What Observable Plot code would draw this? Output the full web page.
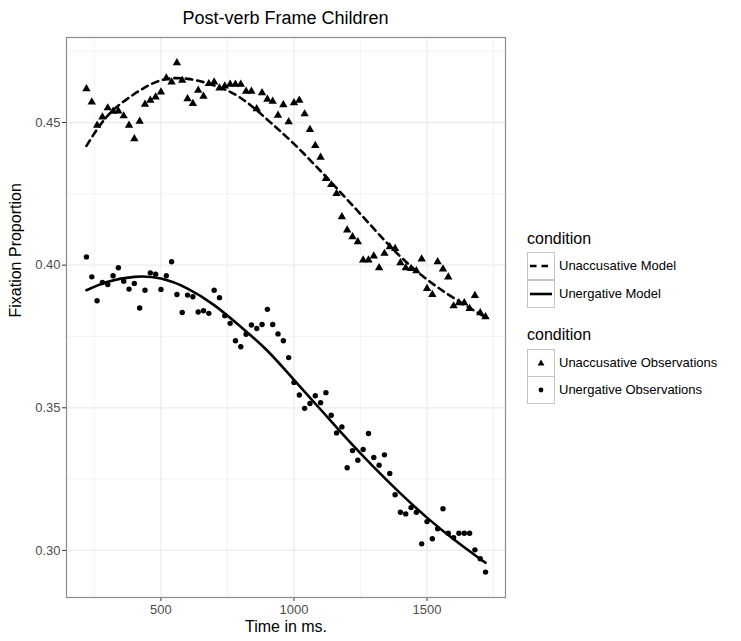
<!DOCTYPE html>
<html>
<head>
<meta charset="utf-8">
<script src="https://cdn.jsdelivr.net/npm/d3@7"></script>
<script src="https://cdn.jsdelivr.net/npm/@observablehq/plot@0.6"></script>
<style>
  body { margin: 0; background: #fff; font-family: "Liberation Sans", Arial, sans-serif; }
  #wrap { position: relative; width: 741px; height: 641px; overflow: hidden; background: #fff; }
  #title { position: absolute; left: 0; width: 571px; top: 5px; line-height: 26px; text-align: center; font-size: 18px; color: #000; }
  #chart { position: absolute; left: 0; top: 0; }
  .lg-title { position: absolute; left: 527px; font-size: 16px; line-height: 20px; color: #000; }
  .lg-key { position: absolute; left: 527px; width: 28px; height: 28px; }
  .lg-label { position: absolute; left: 559px; font-size: 13px; line-height: 16px; color: #000; white-space: nowrap; }
</style>
</head>
<body>
<div id="wrap">
  <div id="title">Post-verb Frame Children</div>
  <div id="chart"></div>
</div>
<script>
// ---- data ----
const times = [220,240,260,280,300,320,340,360,380,400,420,440,460,480,500,520,540,560,580,600,
  620,640,660,680,700,720,740,760,780,800,820,840,860,880,900,920,940,960,980,1000,
  1020,1040,1060,1080,1100,1120,1140,1160,1180,1200,1220,1240,1260,1280,1300,1320,1340,1360,1380,1400,
  1420,1440,1460,1480,1500,1520,1540,1560,1580,1600,1620,1640,1660,1680,1700,1720];

const unaccusativeObs = [0.4618,0.4572,0.4490,0.4519,0.4551,0.4539,0.4540,0.4523,0.4490,0.4443,
  0.4504,0.4564,0.4578,0.4589,0.4607,0.4656,0.4642,0.4709,0.4648,0.4583,
  0.4566,0.4613,0.4592,0.4636,0.4642,0.4621,0.4628,0.4634,0.4634,0.4634,
  0.4609,0.4609,0.4548,0.4604,0.4581,0.4574,0.4525,0.4562,0.4502,0.4569,
  0.4578,0.4530,0.4475,0.4419,0.4378,0.4303,0.4282,0.4251,0.4169,0.4123,
  0.4099,0.4082,0.4018,0.4018,0.4032,0.3991,0.4041,0.4064,0.4058,0.4008,
  0.3991,0.3988,0.3980,0.4021,0.3918,0.3897,0.4012,0.3986,0.3958,0.3857,
  0.3868,0.3868,0.3848,0.3893,0.3833,0.3819];

const unergativeObs = [0.4029,0.3959,0.3875,0.3939,0.3932,0.3963,0.3991,0.3944,0.3916,0.3936,
  0.3850,0.3912,0.3973,0.3968,0.3915,0.3963,0.4012,0.3897,0.3834,0.3895,
  0.3889,0.3836,0.3840,0.3831,0.3912,0.3886,0.3823,0.3796,0.3735,0.3714,
  0.3758,0.3790,0.3778,0.3792,0.3845,0.3792,0.3759,0.3735,0.3676,0.3589,
  0.3545,0.3498,0.3515,0.3542,0.3518,0.3553,0.3474,0.3412,0.3433,0.3290,
  0.3350,0.3316,0.3354,0.3410,0.3326,0.3299,0.3335,0.3270,0.3195,0.3134,
  0.3128,0.3150,0.3134,0.3023,0.3101,0.3041,0.3076,0.3146,0.3060,0.3045,
  0.3060,0.3060,0.3060,0.3002,0.2971,0.2924];

const modelTimes = [220,300,400,500,600,700,800,900,1000,1100,1200,1300,1400,1500,1600,1700,1720];
const unaccusativeModel = [0.4418,0.4524,0.4600,0.4648,0.4653,0.4630,0.4586,0.4510,0.4425,0.4330,
  0.4230,0.4128,0.4030,0.3950,0.3885,0.3828,0.3817];
const unergativeModel = [0.3912,0.3942,0.3959,0.3953,0.3918,0.3860,0.3784,0.3700,0.3598,0.3494,
  0.3390,0.3292,0.3200,0.3115,0.3039,0.2970,0.2957];

const modelLabels = ["Unaccusative Model", "Unergative Model"];
const obsLabels = ["Unaccusative Observations", "Unergative Observations"];
const legendTitle = "condition";

const xMajor = [500, 1000, 1500];
const xMinor = [250, 750, 1250, 1750];
const yMajor = [0.30, 0.35, 0.40, 0.45];
const yMinor = [0.325, 0.375, 0.425, 0.475];

// ---- tables ----
const obsRows = [
  ...times.map((t, i) => ({t, v: unaccusativeObs[i], c: obsLabels[0]})),
  ...times.map((t, i) => ({t, v: unergativeObs[i], c: obsLabels[1]}))
];
const unaccRows = modelTimes.map((t, i) => ({t, v: unaccusativeModel[i]}));
const unergRows = modelTimes.map((t, i) => ({t, v: unergativeModel[i]}));

const chart = Plot.plot({
  width: 741,
  height: 641,
  marginTop: 37,
  marginBottom: 44,
  marginLeft: 66,
  marginRight: 236,
  style: { fontFamily: "'Liberation Sans', Arial, sans-serif", background: "transparent", color: "#000" },
  x: { domain: [145, 1795] },
  y: { domain: [0.2835, 0.4798] },
  marks: [
    Plot.ruleX(xMinor, { stroke: "#eeeeee", strokeWidth: 0.7 }),
    Plot.ruleY(yMinor, { stroke: "#eeeeee", strokeWidth: 0.7 }),
    Plot.ruleX(xMajor, { stroke: "#ebebeb", strokeWidth: 1.3 }),
    Plot.ruleY(yMajor, { stroke: "#ebebeb", strokeWidth: 1.3 }),
    Plot.axisX({ ticks: xMajor, tickSize: 4, tickPadding: 3, fontSize: 13, stroke: "#333", fill: "#4d4d4d", tickFormat: d3.format("d"), label: null }),
    Plot.axisY({ ticks: yMajor, tickSize: 4, tickPadding: 2, fontSize: 13, stroke: "#333", fill: "#4d4d4d", tickFormat: d3.format(".2f"), label: null }),
    Plot.line(unaccRows, { x: "t", y: "v", stroke: "#000", strokeWidth: 2.6, strokeDasharray: "6.5,5", curve: "natural" }),
    Plot.line(unergRows, { x: "t", y: "v", stroke: "#000", strokeWidth: 2.6, curve: "natural" }),
    Plot.dot(obsRows.filter(d => d.c === obsLabels[0]), { x: "t", y: "v", symbol: "triangle", fill: "#000", stroke: "none", r: 3.1 }),
    Plot.dot(obsRows.filter(d => d.c === obsLabels[1]), { x: "t", y: "v", symbol: "circle", fill: "#000", stroke: "none", r: 2.7 }),
    Plot.frame({ stroke: "#8c8c8c", strokeWidth: 1.2 }),
    Plot.text(["Time in ms."], { frameAnchor: "bottom", dy: 34, fontSize: 16, fill: "#000" }),
    Plot.text(["Fixation Proportion"], { frameAnchor: "left", dx: -51, rotate: -90, fontSize: 16, fill: "#000" })
  ]
});
document.getElementById("chart").appendChild(chart);

// ---- legend ----
const wrap = document.getElementById("wrap");
function addDiv(cls, text, top) {
  const d = document.createElement("div");
  d.className = cls;
  d.textContent = text;
  d.style.top = top + "px";
  wrap.appendChild(d);
  return d;
}
function keySvg(top, inner) {
  const d = document.createElement("div");
  d.className = "lg-key";
  d.style.top = top + "px";
  d.innerHTML = `<svg width="28" height="28" xmlns="http://www.w3.org/2000/svg">
    <rect x="0.5" y="0.5" width="27" height="27" fill="#fff" stroke="#c4c4c4" stroke-width="1"/>${inner}</svg>`;
  wrap.appendChild(d);
}
addDiv("lg-title", legendTitle, 229);
const modelKeys = [
  `<line x1="3" x2="25" y1="14" y2="14" stroke="#000" stroke-width="2.6" stroke-dasharray="6.5,5"/>`,
  `<line x1="3" x2="25" y1="14" y2="14" stroke="#000" stroke-width="2.6"/>`
];
modelLabels.forEach((lab, i) => {
  keySvg(252 + i * 27.5, modelKeys[i]);
  addDiv("lg-label", lab, 258 + i * 27.5);
});
addDiv("lg-title", legendTitle, 325);
const obsKeys = [
  `<path d="${d3.symbol(d3.symbolTriangle, 20)()}" transform="translate(14,14.5)" fill="#000"/>`,
  `<circle cx="14" cy="14" r="2.4" fill="#000"/>`
];
obsLabels.forEach((lab, i) => {
  keySvg(348.5 + i * 27.5, obsKeys[i]);
  addDiv("lg-label", lab, 354.5 + i * 27.5);
});
</script>
</body>
</html>
